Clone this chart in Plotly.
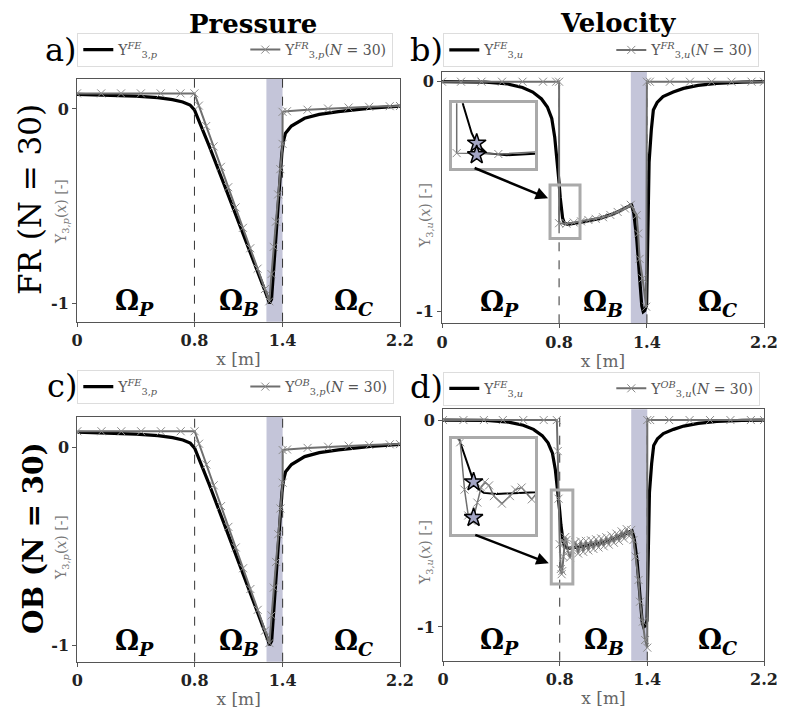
import plotly.graph_objects as go

# the page body keeps its default 8 px margin, so the figure is drawn 8 px smaller
# and every measured pixel position is shifted by that offset
OFF = 8
W, H = 785 - OFF, 713 - OFF

# ---- data ----
# pressure, FE reference
p_fe_x = [0.0, 0.2, 0.4, 0.55, 0.65, 0.72, 0.77, 0.80, 0.83, 0.9, 1.0, 1.1, 1.2, 1.28, 1.30, 1.31,
          1.325, 1.34, 1.36, 1.38, 1.395, 1.405, 1.42, 1.46, 1.55, 1.65, 1.78, 2.0, 2.2]
p_fe_y = [0.075, 0.072, 0.066, 0.058, 0.048, 0.036, 0.02, -0.005, -0.06, -0.19, -0.385, -0.58,
          -0.775, -0.93, -0.975, -1.0, -0.98, -0.82, -0.6, -0.38, -0.23, -0.17, -0.125, -0.088,
          -0.048, -0.028, -0.014, 0.004, 0.014]

# pressure, ROM (FR panel a; OB panel c reads the same)
p_rom_x = [0.0, 0.165, 0.30, 0.435, 0.57, 0.705, 0.80, 0.83, 0.88, 0.93, 0.98, 1.03, 1.08, 1.13,
           1.18, 1.23, 1.28, 1.31, 1.325, 1.34, 1.355, 1.37, 1.385, 1.40, 1.40, 1.43, 1.57, 1.71,
           1.85, 1.99, 2.13, 2.2]
p_rom_y = [0.08, 0.08, 0.08, 0.08, 0.08, 0.08, 0.08, 0.017, -0.088, -0.193, -0.298, -0.403, -0.507,
           -0.612, -0.717, -0.822, -0.927, -0.99, -0.85, -0.71, -0.58, -0.44, -0.31, -0.18, -0.015,
           -0.012, -0.004, 0.002, 0.007, 0.011, 0.014, 0.015]
p_ob_x = p_rom_x
p_ob_y = p_rom_y

# velocity, FE reference
u_fe_x = [0.0, 0.3, 0.45, 0.55, 0.62, 0.68, 0.72, 0.75, 0.77, 0.785, 0.80, 0.808, 0.818, 0.824,
          0.836, 0.86, 0.95, 1.08, 1.18, 1.25, 1.295, 1.31, 1.33, 1.35, 1.365, 1.375, 1.385, 1.398,
          1.402, 1.407, 1.415, 1.43, 1.444, 1.47, 1.51, 1.58, 1.65, 1.75, 1.876, 2.05, 2.2]
u_fe_y = [0.0, -0.002, -0.01, -0.025, -0.045, -0.075, -0.11, -0.16, -0.24, -0.33, -0.44, -0.505,
          -0.569, -0.592, -0.615, -0.62, -0.611, -0.594, -0.572, -0.55, -0.535, -0.57, -0.68, -0.85,
          -0.975, -1.0, -0.995, -0.97, -0.8, -0.55, -0.35, -0.21, -0.123, -0.09, -0.065, -0.045,
          -0.029, -0.016, -0.007, -0.002, 0.0]

# velocity, FR reduced model
u_fr_x = [0.0, 0.13, 0.27, 0.41, 0.55, 0.69, 0.78, 0.80, 0.80, 0.85, 0.90, 0.95, 1.0, 1.05, 1.10,
          1.15, 1.20, 1.25, 1.29, 1.33, 1.34, 1.35, 1.37, 1.395, 1.40, 1.42, 1.557, 1.694, 1.842,
          1.978, 2.115, 2.2]
u_fr_y = [0.0, 0.0, 0.0, 0.0, 0.0, 0.0, 0.0, 0.0, -0.615, -0.617, -0.612, -0.607, -0.601, -0.596,
          -0.589, -0.579, -0.566, -0.551, -0.535, -0.58, -0.66, -0.77, -0.855, -0.978, 0.0, 0.0,
          0.0, 0.0, 0.0, 0.0, 0.0, 0.0]

# velocity, OB reduced model (oscillating in the bulge)
u_ob_x = [0.0, 0.14, 0.28, 0.41, 0.55, 0.69, 0.78, 0.786, 0.792, 0.80, 0.807, 0.813, 0.817, 0.824,
          0.831, 0.838, 0.846, 0.855, 0.870, 0.885, 0.895, 0.907, 0.926, 0.944, 0.961, 0.979,
          0.996, 1.014, 1.031, 1.049, 1.066, 1.084, 1.101, 1.119, 1.136, 1.154, 1.171, 1.189,
          1.206, 1.224, 1.241, 1.259, 1.276, 1.29, 1.305, 1.32, 1.34, 1.35, 1.37, 1.385, 1.40,
          1.40, 1.42, 1.55, 1.69, 1.83, 1.97, 2.11, 2.2]
u_ob_y = [0.0, 0.0, 0.0, 0.0, 0.0, 0.0, 0.0, -0.15, -0.38, -0.60, -0.72, -0.745, -0.73, -0.66,
          -0.59, -0.565, -0.58, -0.63, -0.665, -0.63, -0.60, -0.59, -0.645, -0.586, -0.637, -0.584,
          -0.630, -0.581, -0.623, -0.576, -0.616, -0.572, -0.610, -0.566, -0.602, -0.558, -0.593,
          -0.549, -0.584, -0.538, -0.573, -0.527, -0.561, -0.531, -0.58, -0.66, -0.773, -0.878,
          -0.974, -1.063, -1.10, 0.0, 0.0, 0.0, 0.0, 0.0, 0.0, 0.0, 0.0]

# stars in the insets (sensor point on FE and on ROM)
star_b_x = [0.824, 0.824]
star_b_y = [-0.592, -0.619]
star_d_x = [0.817, 0.817]
star_d_y = [-0.564, -0.73]

x_ticks = [0, 0.8, 1.4, 2.2]
x_tick_text = ['0', '0.8', '1.4', '2.2']
band = [1.29, 1.40]
bounds = [0.8, 1.4]
omega_x = [0.39, 1.10, 1.88]
omega_text = ['Ω', 'Ω', 'Ω']
omega_sub = ['P', 'B', 'C']

SERIF = 'DejaVu Serif'
FE_COLOR = 'black'
ROM_COLOR = '#6f6f6f'
MK_COLOR = '#8c8c8c'


def px_x(p):
    return (p - OFF) / W


def px_y(p):
    return 1 - (p - OFF) / H


fig = go.Figure()


def add_pair(xa, ya, fe_x, fe_y, rom_x, rom_y, fe_name, rom_name, legend, inset=False):
    fig.add_trace(go.Scatter(
        x=fe_x, y=fe_y, mode='lines', name=fe_name, xaxis=xa, yaxis=ya,
        line=dict(color=FE_COLOR, width=2 if inset else 3.2),
        legend=legend, showlegend=not inset, legendwidth=122))
    fig.add_trace(go.Scatter(
        x=rom_x, y=rom_y, mode='lines+markers', name=rom_name, xaxis=xa, yaxis=ya,
        line=dict(color=ROM_COLOR, width=1.5 if inset else 2),
        marker=dict(symbol='x-thin', size=8, color=MK_COLOR, line=dict(color=MK_COLOR, width=1)),
        legend=legend, showlegend=not inset))


fe_p = 'Υ<sup><i>FE</i></sup><sub>3,<i>p</i></sub>'
fe_u = 'Υ<sup><i>FE</i></sup><sub>3,<i>u</i></sub>'
add_pair('x', 'y', p_fe_x, p_fe_y, p_rom_x, p_rom_y, fe_p,
         'Υ<sup><i>FR</i></sup><sub>3,<i>p</i></sub>(<i>N</i> = 30)', 'legend')
add_pair('x2', 'y2', u_fe_x, u_fe_y, u_fr_x, u_fr_y, fe_u,
         'Υ<sup><i>FR</i></sup><sub>3,<i>u</i></sub>(<i>N</i> = 30)', 'legend2')
add_pair('x3', 'y3', p_fe_x, p_fe_y, p_ob_x, p_ob_y, fe_p,
         'Υ<sup><i>OB</i></sup><sub>3,<i>p</i></sub>(<i>N</i> = 30)', 'legend3')
add_pair('x4', 'y4', u_fe_x, u_fe_y, u_ob_x, u_ob_y, fe_u,
         'Υ<sup><i>OB</i></sup><sub>3,<i>u</i></sub>(<i>N</i> = 30)', 'legend4')
# insets
add_pair('x5', 'y5', u_fe_x, u_fe_y, u_fr_x, u_fr_y, 'inset FE', 'inset FR', 'legend2', inset=True)
add_pair('x6', 'y6', u_fe_x, u_fe_y, u_ob_x, u_ob_y, 'inset FE', 'inset OB', 'legend4', inset=True)
for xa, ya, sx, sy in [('x5', 'y5', star_b_x, star_b_y), ('x6', 'y6', star_d_x, star_d_y)]:
    fig.add_trace(go.Scatter(
        x=sx, y=sy, mode='markers', xaxis=xa, yaxis=ya, showlegend=False, name='sensor',
        marker=dict(symbol='star', size=14, color='#a3a5c4', line=dict(color='black', width=1.5))))

# panel geometry (pixels of the plot frame) and y ranges
panels = [
    # name, x0, x1, top, bottom, yrange
    ('', 77, 400, 79, 321.7, [-1.095, 0.154]),
    ('2', 442, 764, 71.7, 323.3, [-1.05, 0.0435]),
    ('3', 77.3, 400, 417, 661.7, [-1.084, 0.152]),
    ('4', 443, 764, 409.3, 660.7, [-1.163, 0.052]),
]

axis_common = dict(showgrid=False, zeroline=False, showline=True, mirror=True, automargin=False,
                   linecolor='#555', linewidth=1, ticks='outside', ticklen=4,
                   tickcolor='#555',
                   tickfont=dict(family=SERIF, size=16, color='#222', weight='bold'))

layout = {}
shapes = []
annotations = []
for name, x0, x1, top, bot, yr in panels:
    layout['xaxis' + name] = dict(
        axis_common, domain=[px_x(x0), px_x(x1)], range=[0, 2.2],
        anchor='y' + name, tickvals=x_ticks, ticktext=x_tick_text,
        title=dict(text='x [m]', standoff=4, font=dict(family=SERIF, size=17, color='#666')))
    layout['yaxis' + name] = dict(
        axis_common, domain=[px_y(bot), px_y(top)], range=yr,
        anchor='x' + name, tickvals=[0, -1], ticktext=['0', '-1'])
    xr, yrf = 'x' + name, 'y' + name
    shapes.append(dict(type='rect', xref=xr, yref=yrf + ' domain', x0=band[0], x1=band[1],
                       y0=0, y1=1, fillcolor='rgb(196,197,217)', line=dict(width=0),
                       layer='below'))
    for b in bounds:
        shapes.append(dict(type='line', xref=xr, yref=yrf + ' domain', x0=b, x1=b, y0=0, y1=1,
                           line=dict(color='#333', width=1, dash='dash'), layer='below'))
    for ox, ot, os in zip(omega_x, omega_text, omega_sub):
        annotations.append(dict(
            x=ox, y=0, xref=xr, yref=yrf + ' domain', xanchor='center', yanchor='bottom',
            text='<b>%s</b><sub><b><i>%s</i></b></sub>' % (ot, os), showarrow=False,
            font=dict(family=SERIF, size=27, color='black')))

inset_ax = dict(showgrid=False, zeroline=False, showline=True, mirror=True, linecolor='#aaa',
                linewidth=3, showticklabels=False, ticks='', automargin=False)
layout['xaxis5'] = dict(inset_ax, domain=[px_x(451.7), px_x(535)], range=[0.794, 0.894], anchor='y5')
layout['yaxis5'] = dict(inset_ax, domain=[px_y(168.3), px_y(103.3)], range=[-0.65, -0.50], anchor='x5')
layout['xaxis6'] = dict(inset_ax, domain=[px_x(451.7), px_x(535)], range=[0.776, 0.932], anchor='y6')
layout['yaxis6'] = dict(inset_ax, domain=[px_y(534), px_y(439.3)], range=[-0.806, -0.366], anchor='x6')

# zoom boxes in the main velocity panels
shapes.append(dict(type='rect', xref='x2', yref='y2', x0=0.738, x1=0.943, y0=-0.449, y1=-0.681,
                   line=dict(color='#aaa', width=3)))
shapes.append(dict(type='rect', xref='x4', yref='y4', x0=0.742, x1=0.890, y0=-0.338, y1=-0.792,
                   line=dict(color='#aaa', width=3)))
annotations.append(dict(x=0.725, y=-0.507, xref='x2', yref='y2', text='', showarrow=True,
                        ax=-75, ay=-31, arrowhead=2, arrowsize=1, arrowwidth=2.5,
                        arrowcolor='black'))
annotations.append(dict(x=0.725, y=-0.692, xref='x4', yref='y4', text='', showarrow=True,
                        ax=-75, ay=-29, arrowhead=2, arrowsize=1, arrowwidth=2.5,
                        arrowcolor='black'))

# texts in paper coordinates
def txt(text, x, y, size, xanchor='center', angle=0, weight='normal', color='black'):
    annotations.append(dict(text=text, x=px_x(x), y=px_y(y), xref='paper', yref='paper',
                            xanchor=xanchor, yanchor='middle', showarrow=False, textangle=angle,
                            borderpad=0,
                            font=dict(family=SERIF, size=size, color=color, weight=weight)))


txt('Pressure', 253, 24, 26, weight='bold')
txt('Velocity', 618, 23, 26, weight='bold')
txt('a)', 78, 50, 32, xanchor='right')
txt('b)', 444, 50, 32, xanchor='right')
txt('c)', 78, 386, 32, xanchor='right')
txt('d)', 444, 387, 32, xanchor='right')
txt('FR (N = 30)', 30, 200, 31, angle=-90)
txt('OB (N = 30)', 33, 538, 28, angle=-90, weight='bold')
ytitle_p = 'Υ<sub>3,<i>p</i></sub>(<i>x</i>) [-]'
ytitle_u = 'Υ<sub>3,<i>u</i></sub>(<i>x</i>) [-]'
txt(ytitle_p, 62, 212, 14, angle=-90, color='#777')
txt(ytitle_u, 426, 215, 14, angle=-90, color='#777')
txt(ytitle_p, 62, 548, 14, angle=-90, color='#777')
txt(ytitle_u, 426, 552, 14, angle=-90, color='#777')

legend_style = dict(orientation='h', xanchor='left', yanchor='top', bgcolor='white',
                    bordercolor='#dddddd', borderwidth=1, itemwidth=30,
                    font=dict(family=SERIF, size=14, color='#555'))
layout['legend'] = dict(legend_style, x=px_x(77.3), y=px_y(33))
layout['legend2'] = dict(legend_style, x=px_x(443.3), y=px_y(33.3))
layout['legend3'] = dict(legend_style, x=px_x(77.3), y=px_y(370))
layout['legend4'] = dict(legend_style, x=px_x(443.3), y=px_y(371.7))

fig.update_layout(
    width=W, height=H, autosize=False,
    margin=dict(l=0, r=0, t=0, b=0),
    paper_bgcolor='white', plot_bgcolor='white',
    shapes=shapes, annotations=annotations,
    **layout)

fig.write_html("out.html")
